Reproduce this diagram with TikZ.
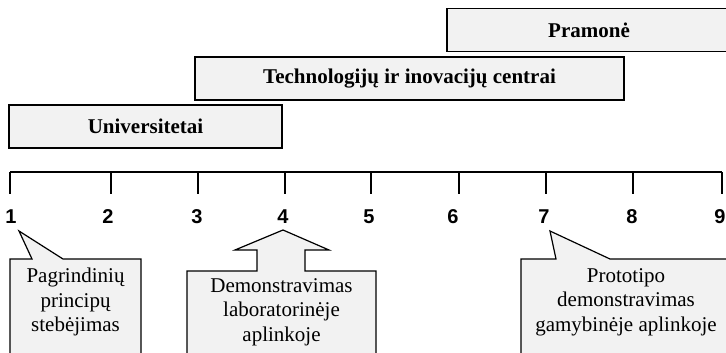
\documentclass[tikz,border=0pt]{standalone}
\usepackage{fontspec}
\setmainfont{Liberation Serif}
\newfontfamily\numfont{Liberation Sans}
\definecolor{boxgray}{HTML}{F2F2F2}
\begin{document}
\begin{tikzpicture}[x=1pt,y=-1pt,
  stage/.style={draw=black, line width=1.6pt, fill=boxgray, minimum height=43pt,
    inner sep=0pt, font=\fontsize{21}{24}\selectfont\bfseries},
  bubble/.style={draw=black, line width=1.2pt, fill=boxgray, line join=miter},
  bubbletext/.style={align=center, inner sep=0pt, font=\fontsize{21}{24.5}\selectfont},
  level/.style={inner sep=0pt, font=\numfont\bfseries\fontsize{20}{22}\selectfont},
  axis/.style={line width=1.6pt}]
\useasboundingbox (0,0) rectangle (726,353);
\clip (0,0) rectangle (726,353);
\fill[white] (0,0) rectangle (726,353);

% actors, staggered along the scale
\node[stage, minimum width=284pt] (industry) at (589,30) {Pramonė};
\node[stage, minimum width=429pt] (centres) at (409.5,78.5) {Technologijų ir inovacijų centrai};
\node[stage, minimum width=273pt] (univ) at (145.5,126.5) {Universitetai};

% readiness scale 1..9
\foreach \n/\x/\lx in {1/10/11, 2/111/108, 3/198/197, 4/285/283, 5/371/369,
                       6/459/453, 7/546/544, 8/633/632, 9/722/720} {
  \coordinate (t\n) at (\x,172);
  \draw[axis] (t\n) -- ++(0,22);
  \node[level] (n\n) at (\lx,217) {\n};
}
\draw[axis] (t1) -- (t9);

% callout at level 1
\draw[bubble] (10,365) -- (10,259) -- (32,259) -- (19,231) -- (63,259)
  -- (141,259) -- (141,365) -- cycle;
\node[bubbletext] (obs) at (75.5,302) {Pagrindinių\\principų\\stebėjimas};

% arrow callout at level 4
\draw[bubble] (187,365) -- (187,271) -- (257,271) -- (257,250) -- (235,250)
  -- (283,230) -- (329,250) -- (305,250) -- (305,271) -- (376,271)
  -- (376,365) -- cycle;
\node[bubbletext] (lab) at (281.5,312) {Demonstravimas\\laboratorinėje\\aplinkoje};

% callout at level 7
\draw[bubble] (521,365) -- (521,259) -- (556,259) -- (550,231) -- (610,259)
  -- (735,259) -- (735,365) -- cycle;
\node[bubbletext] (proto) at (626,302) {Prototipo\\demonstravimas\\gamybinėje aplinkoje};
\end{tikzpicture}
\end{document}
